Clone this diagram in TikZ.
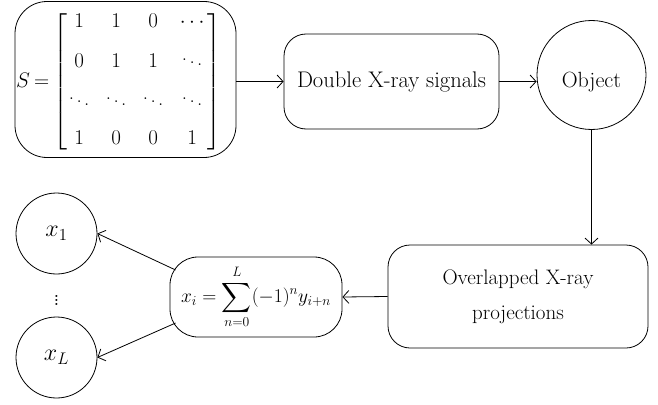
\RequirePackage{fix-cm}
\documentclass[tikz,border=0pt]{standalone}
\usepackage{exscale}
\usetikzlibrary{arrows.meta,calc}
\newcommand\mcell[1]{\hbox to 0pt{\hss$#1$\hss}}
\begin{document}
\begin{tikzpicture}[x=1pt,y=-1pt,
  every node/.style={font=\fontsize{21}{25}\selectfont, inner sep=0pt},
  rbox/.style={draw, rounded corners=22pt, line width=0.8pt},
  circ/.style={draw, circle, line width=0.8pt},
  arr/.style={line width=0.8pt, -{Straight Barb[length=6pt,width=13pt]}}]
\useasboundingbox (0,0) rectangle (658,404);
% matrix box
\node[rbox, rounded corners=32pt, minimum width=221pt, minimum height=156pt] (m) at (125.5,79.5) {};
\node[anchor=west] (mtx) at (16,82) {$\delimitershortfall=12pt\delimiterfactor=950
S\mkern-1.5mu=\mkern-1.5mu\renewcommand{\arraystretch}{0.8}\left[\begin{array}{@{\hspace{12pt}}c@{\hspace{37pt}}c@{\hspace{37pt}}c@{\hspace{39pt}}c@{\hspace{15pt}}}
\mcell{1}&\mcell{1}&\mcell{0}&\mcell{\cdots}\\[18pt]
\mcell{0}&\mcell{1}&\mcell{1}&\mcell{\ddots}\\[18pt]
\mcell{\ddots}&\mcell{\ddots}&\mcell{\ddots}&\mcell{\ddots}\\[18pt]
\mcell{1}&\mcell{0}&\mcell{0}&\mcell{1}
\end{array}\right]$};
% double x-ray
\node[rbox, minimum width=215pt, minimum height=95pt, font=\fontsize{22.6}{27}\selectfont] (d) at (391.5,81.5) {Double X-ray signals};
% object
\node[circ, minimum size=109pt] (o) at (591.5,75) {};
\node[font=\fontsize{22}{26}\selectfont] (otext) at (591.5,82) {Object};
% overlapped
\node[rbox, minimum width=260pt, minimum height=103pt, align=center, font=\fontsize{21}{35}\selectfont] (p) at (518,296.5) {Overlapped X-ray\\projections};
% formula
\node[rbox, rounded corners=28pt, minimum width=172pt, minimum height=80pt, font=\fontsize{19.5}{24}\selectfont] (f) at (256,297) {$\displaystyle x_i=\sum_{n=0}^{L}(-1)^n y_{i+n}$};
% outputs
\node[circ, minimum size=81pt, font=\fontsize{24}{28}\selectfont] (x1) at (56.5,233.5) {$x_1$};
\node[circ, minimum size=81pt, font=\fontsize{24}{28}\selectfont] (xL) at (56.5,357.5) {$x_L$};
\node[font=\fontsize{25}{30}\selectfont] (vd) at (56.5,297) {$\vdots$};
% connectors
\draw[arr] (m.east |- d.west) -- (d.west);
\draw[arr] (d.east) -- (d.east -| o.west);
\draw[arr] (o.south) -- (o.south |- p.north);
\draw[arr] (p.west) -- (f.east);
\coordinate (f1) at ($(f.west)+(6,-27)$);
\coordinate (f2) at ($(f.west)+(6,26)$);
\draw[arr] (f1) -- (x1.east);
\draw[arr] (f2) -- (xL.east);
\end{tikzpicture}
\end{document}
